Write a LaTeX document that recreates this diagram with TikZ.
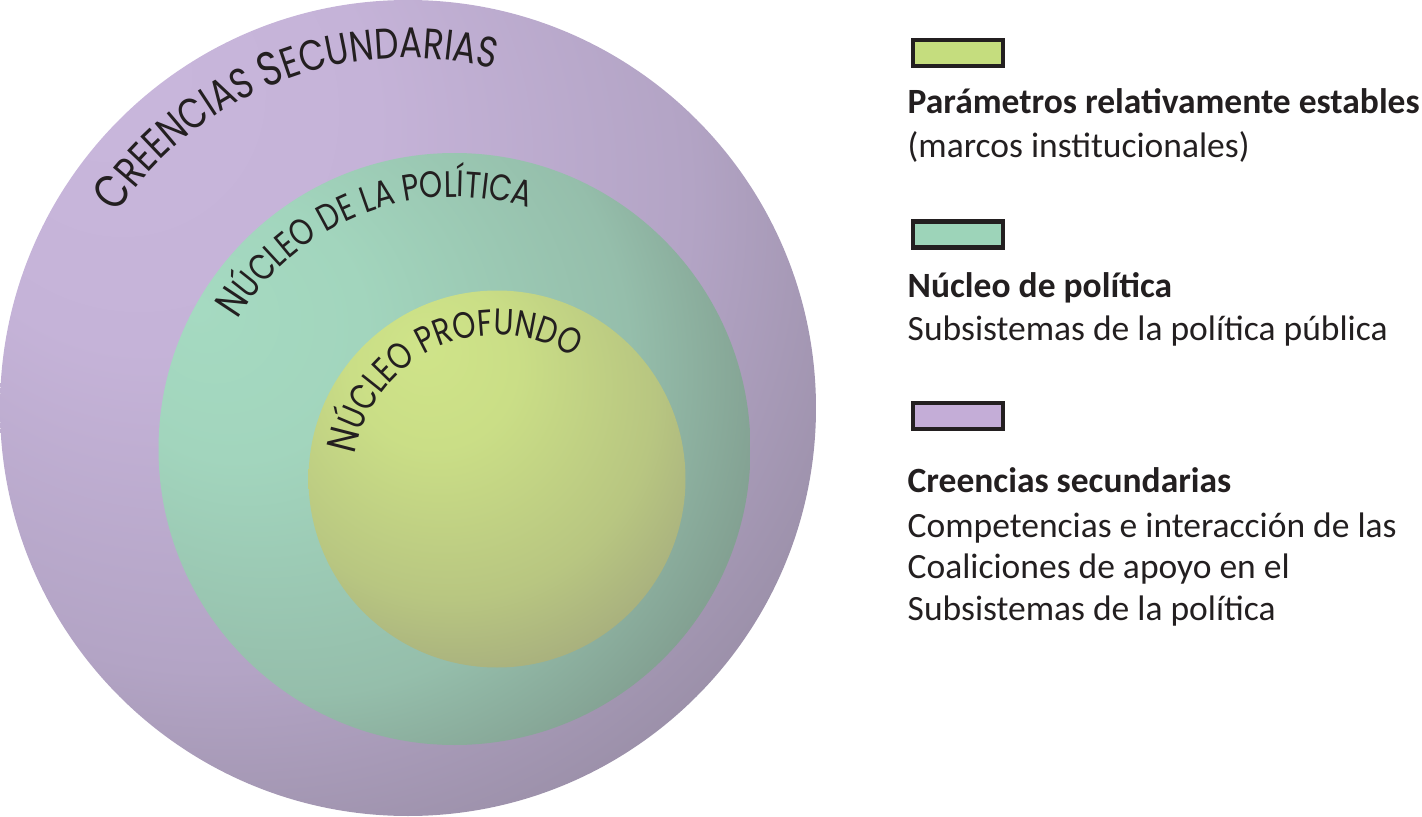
\documentclass[tikz,border=0pt]{standalone}
\usepackage{fontspec}
\setmainfont{Carlito}
\newfontfamily\ringfont{Poppins}[FakeStretch=0.8]
\usetikzlibrary{decorations.text}

\definecolor{inkdark}{HTML}{231F20}
\definecolor{lilacA}{HTML}{C9B7DC}
\definecolor{lilacB}{HTML}{C5B3D8}
\definecolor{lilacC}{HTML}{B3A4C5}
\definecolor{lilacD}{HTML}{8C8397}
\definecolor{mintA}{HTML}{A5DAC1}
\definecolor{mintB}{HTML}{A2D5BD}
\definecolor{mintC}{HTML}{95BEAB}
\definecolor{mintD}{HTML}{788F83}
\definecolor{limeA}{HTML}{CFE489}
\definecolor{limeB}{HTML}{CADE86}
\definecolor{limeC}{HTML}{B8C681}
\definecolor{limeD}{HTML}{9EA27C}
\definecolor{keylime}{HTML}{C5DD7E}
\definecolor{keymint}{HTML}{9DD4B9}
\definecolor{keylilac}{HTML}{C4ADD7}

\pgfdeclareradialshading{lilacshade}{\pgfpoint{-20bp}{22bp}}{color(0bp)=(lilacA); color(14bp)=(lilacB); color(29bp)=(lilacC); color(45bp)=(lilacD); color(70bp)=(lilacD)}
\pgfdeclareradialshading{mintshade}{\pgfpoint{-22bp}{12bp}}{color(0bp)=(mintA); color(11bp)=(mintB); color(28bp)=(mintC); color(42bp)=(mintD); color(70bp)=(mintD)}
\pgfdeclareradialshading{limeshade}{\pgfpoint{-10bp}{18bp}}{color(0bp)=(limeA); color(11bp)=(limeB); color(27bp)=(limeC); color(41bp)=(limeD); color(70bp)=(limeD)}

\begin{document}
\begin{tikzpicture}[
  ring/.style={circle, inner sep=0pt, outer sep=0pt, minimum size=#1},
  ringtext/.style={decorate, decoration={text along path, text align=center, text color=inkdark, text={#1}}},
  keybox/.style={draw=inkdark, line width=1.2pt, minimum width=0.9cm, minimum height=0.26cm, inner sep=0pt},
  keyhead/.style={anchor=base west, inner sep=0pt, text=inkdark, font=\fontsize{10.1}{12}\selectfont\bfseries},
  keytext/.style={anchor=base west, inner sep=0pt, text=inkdark, font=\fontsize{10.1}{12}\selectfont}
]
\useasboundingbox (0,0) rectangle (14.22,8.16);
\node[ring=8.16cm, shading=lilacshade] (r1) at (4.08,4.08) {};
\node[ring=5.92cm, shading=mintshade] (r2) at (4.545,3.67) {};
\node[ring=3.77cm, shading=limeshade] (r3) at (4.97,3.37) {};
\path[ringtext={|\ringfont\fontsize{13.6}{14}\selectfont|C|\ringfont\fontsize{12.2}{14}\selectfont|REENCIAS |\ringfont\fontsize{13.6}{14}\selectfont|S|\ringfont\fontsize{12.2}{14}\selectfont|ECUNDARIAS}]
  (r1.center) ++(171:3.5) arc[start angle=171, end angle=51, radius=3.5];
\path[ringtext={|\ringfont\fontsize{11.8}{14}\selectfont|N|\ringfont\fontsize{10.5}{14}\selectfont|ÚCLEO DE LA POLÍTICA}]
  (r2.center) ++(171:2.52) arc[start angle=171, end angle=51, radius=2.52];
\path[ringtext={|\ringfont\fontsize{11.8}{14}\selectfont|N|\ringfont\fontsize{10.5}{14}\selectfont|ÚCLEO PROFUNDO}]
  (r3.center) ++(184:1.44) arc[start angle=184, end angle=44, radius=1.44];
\node[keybox, fill=keylime] (k1) at (9.58,7.63) {};
\node[keybox, fill=keymint] (k2) at (9.58,5.815) {};
\node[keybox, fill=keylilac] (k3) at (9.58,4.0) {};
\node[keyhead] (h1) at (9.07,7.02) {Parámetros relativamente estables};
\node[keytext] (t1) at (9.07,6.59) {(marcos institucionales)};
\node[keyhead] (h2) at (9.07,5.19) {Núcleo de política};
\node[keytext] (t2) at (9.07,4.76) {Subsistemas de la política pública};
\node[keyhead] (h3) at (9.07,3.24) {Creencias secundarias};
\node[keytext] (t3) at (9.07,2.79) {Competencias e interacción de las};
\node[keytext] (t4) at (9.07,2.38) {Coaliciones de apoyo en el};
\node[keytext] (t5) at (9.07,1.96) {Subsistemas de la política};
\end{tikzpicture}
\end{document}
